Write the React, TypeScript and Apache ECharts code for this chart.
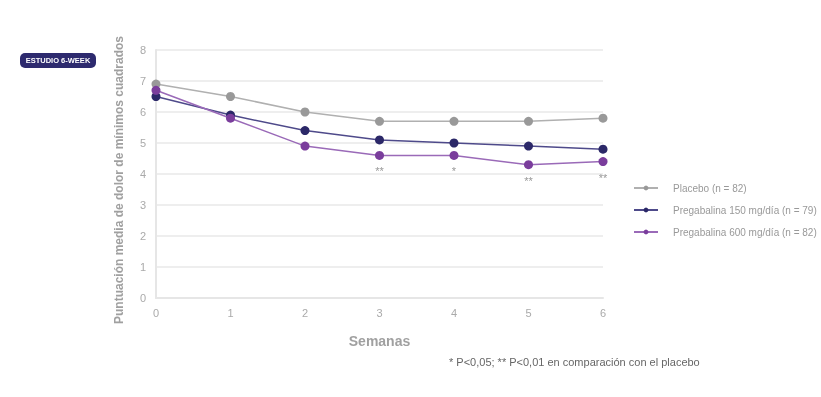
import React, { useEffect, useRef } from "react";
import * as echarts from "echarts";

const weeks = ["0", "1", "2", "3", "4", "5", "6"];
const placebo = [6.9, 6.5, 6.0, 5.7, 5.7, 5.7, 5.8];
const preg150 = [6.5, 5.9, 5.4, 5.1, 5.0, 4.9, 4.8];
const preg600 = [6.7, 5.8, 4.9, 4.6, 4.6, 4.3, 4.4];
const significance = ["", "", "", "**", "*", "**", "**"];
const seriesNames = [
  "Placebo (n = 82)",
  "Pregabalina 150 mg/día (n = 79)",
  "Pregabalina 600 mg/día (n = 82)",
];

export default function App() {
  const ref = useRef<HTMLDivElement>(null);
  useEffect(() => {
    if (!ref.current) return;
    const chart = echarts.init(ref.current, null, { renderer: "svg" });
    const font = "Arial, 'Liberation Sans', sans-serif";
    chart.setOption({
      animation: false,
      textStyle: { fontFamily: font },
      grid: { left: 156, right: 218, top: 50, bottom: 99, containLabel: false },
      graphic: [
        {
          type: "group",
          left: 20,
          top: 53,
          children: [
            {
              type: "rect",
              shape: { x: 0, y: 0, width: 76, height: 15, r: 5 },
              style: { fill: "#2d2a6e" },
            },
            {
              type: "text",
              x: 38,
              y: 7.5,
              style: {
                text: "ESTUDIO 6-WEEK",
                fill: "#ffffff",
                font: "bold 7.5px " + font,
                align: "center",
                verticalAlign: "middle",
              },
            },
          ],
        },
        {
          type: "text",
          left: 449,
          top: 356,
          style: {
            text: "* P<0,05; ** P<0,01 en comparación con el placebo",
            fill: "#666666",
            font: "11px " + font,
          },
        },
      ],
      legend: {
        orient: "vertical",
        left: 628,
        top: 178,
        itemGap: 12,
        itemWidth: 24,
        itemHeight: 6,
        textStyle: {
          color: "#999999",
          fontSize: 10,
          fontFamily: font,
          padding: [0, 0, 0, 10],
        },
        data: seriesNames,
      },
      xAxis: {
        type: "category",
        data: weeks,
        boundaryGap: false,
        name: "Semanas",
        nameLocation: "middle",
        nameGap: 36,
        nameTextStyle: { color: "#a0a0a0", fontSize: 14, fontWeight: "bold" },
        axisLine: { show: true, lineStyle: { color: "#e6e6e6", width: 2 } },
        axisTick: { show: false },
        axisLabel: { color: "#aaaaaa", fontSize: 11, margin: 9 },
        splitLine: { show: false },
      },
      yAxis: {
        type: "value",
        min: 0,
        max: 8,
        interval: 1,
        name: "Puntuación media de dolor de mínimos cuadrados",
        nameLocation: "middle",
        nameGap: 31,
        nameTextStyle: {
          color: "#a0a0a0",
          fontSize: 12,
          fontWeight: "bold",
          padding: [0, 12, 0, 0],
        },
        axisLine: { show: true, lineStyle: { color: "#e6e6e6", width: 2 } },
        axisTick: { show: false },
        axisLabel: { color: "#aaaaaa", fontSize: 11, margin: 10 },
        splitLine: { show: true, lineStyle: { color: "#e9e9e9", width: 1.5 } },
      },
      series: [
        {
          name: seriesNames[0],
          type: "line",
          data: placebo,
          symbol: "circle",
          symbolSize: 9,
          itemStyle: { color: "#999999" },
          lineStyle: { color: "#b0b0b0", width: 1.5 },
          z: 2,
        },
        {
          name: seriesNames[1],
          type: "line",
          data: preg150,
          symbol: "circle",
          symbolSize: 9,
          itemStyle: { color: "#2b2868" },
          lineStyle: { color: "#4e4a8a", width: 1.5 },
          z: 3,
        },
        {
          name: seriesNames[2],
          type: "line",
          data: preg600.map((v, i) => ({
            value: v,
            label: {
              show: significance[i] !== "",
              formatter: significance[i],
              position: "bottom",
              distance: 6,
              color: "#999999",
              fontSize: 11,
            },
          })),
          symbol: "circle",
          symbolSize: 9,
          itemStyle: { color: "#7a3d9c" },
          lineStyle: { color: "#9a6ab8", width: 1.5 },
          z: 4,
        },
      ],
    });
    return () => chart.dispose();
  }, []);
  return (
    <div
      ref={ref}
      style={{ position: "fixed", left: 0, top: 0, width: 821, height: 397 }}
    />
  );
}
